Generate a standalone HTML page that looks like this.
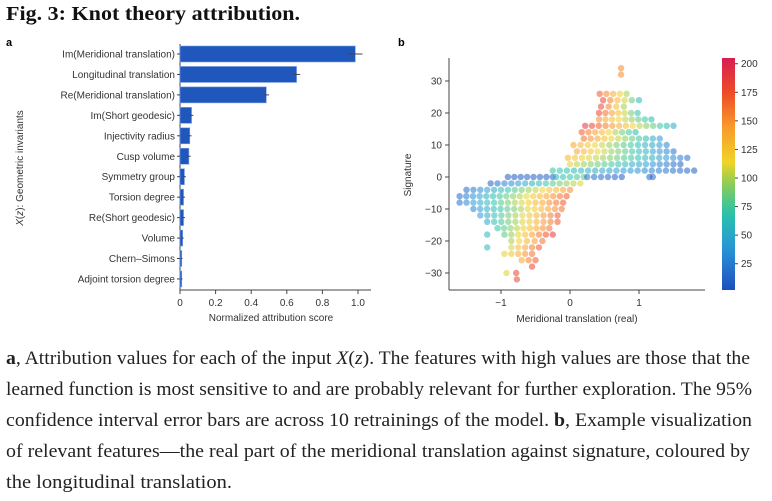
<!DOCTYPE html>
<html><head><meta charset="utf-8"><style>
body{margin:0;background:#fff;width:772px;height:501px;overflow:hidden}
svg{display:block}
.t{font-family:"Liberation Sans",sans-serif;font-size:10px;fill:#333}
.cap{font-family:"Liberation Serif",serif;font-size:19px;fill:#222}
</style></head><body>
<svg id="fig" width="772" height="501">
<text x="6" y="20" font-family="Liberation Serif,serif" font-weight="bold" font-size="20" fill="#111" textLength="294" lengthAdjust="spacingAndGlyphs">Fig. 3: Knot theory attribution.</text>
<text x="6" y="46" font-family="Liberation Sans,sans-serif" font-weight="bold" font-size="11">a</text>
<text x="398" y="46" font-family="Liberation Sans,sans-serif" font-weight="bold" font-size="11">b</text>
<g id="barg"></g>
<g id="scg"></g>
<g>
<text class="cap" x="6" y="364" textLength="744" lengthAdjust="spacingAndGlyphs"><tspan font-weight="bold">a</tspan>, Attribution values for each of the input <tspan font-style="italic">X</tspan>(<tspan font-style="italic">z</tspan>). The features with high values are those that the</text>
<text class="cap" x="6" y="395" textLength="746" lengthAdjust="spacingAndGlyphs">learned function is most sensitive to and are probably relevant for further exploration. The 95%</text>
<text class="cap" x="6" y="426" textLength="746" lengthAdjust="spacingAndGlyphs">confidence interval error bars are across 10 retrainings of the model. <tspan font-weight="bold">b</tspan>, Example visualization</text>
<text class="cap" x="6" y="457" textLength="744" lengthAdjust="spacingAndGlyphs">of relevant features—the real part of the meridional translation against signature, coloured by</text>
<text class="cap" x="6" y="488" textLength="226" lengthAdjust="spacingAndGlyphs">the longitudinal translation.</text>
</g>
</svg>
<script>
const barLabels=["Im(Meridional translation)","Longitudinal translation","Re(Meridional translation)","Im(Short geodesic)","Injectivity radius","Cusp volume","Symmetry group","Torsion degree","Re(Short geodesic)","Volume","Chern–Simons","Adjoint torsion degree"];
const barValues=[0.985,0.655,0.485,0.065,0.055,0.05,0.025,0.02,0.02,0.015,0.01,0.01];
const barErrors=[0.04,0.02,0.015,0.01,0.01,0.01,0.008,0.008,0.008,0.006,0.004,0.004];
const barTicks=[0,0.2,0.4,0.6,0.8,1.0];
// scatter segments: [signature, xStart, xEnd, colorStart, colorEnd]
const segSig=[34,32,26,24,22,20,18,16,14,12,10,8,6,4,2,0,0,0,0,-2,-4,-6,-8,-10,-12,-14,-16,-18,-18,-20,-22,-22,-24,-26,-28,-30,-30,-32];
const segX0=[0.74,0.74,0.43,0.48,0.45,0.42,0.42,0.22,0.17,0.2,0.05,0.1,-0.03,0.0,-0.25,-0.9,-0.2,0.25,1.15,-1.15,-1.5,-1.6,-1.6,-1.4,-1.3,-1.2,-1.05,-1.2,-0.95,-0.85,-1.2,-0.85,-0.95,-0.7,-0.55,-0.92,-0.78,-0.77];
const segX1=[0.74,0.74,0.82,1.0,0.78,0.98,1.18,1.5,0.95,1.3,1.4,1.5,1.7,1.6,1.8,-0.25,0.2,0.75,1.2,0.15,0.0,-0.05,-0.1,-0.12,-0.18,-0.18,-0.3,-1.2,-0.25,-0.4,-1.2,-0.45,-0.55,-0.5,-0.55,-0.92,-0.78,-0.77];
const segC0=[150,150,170,180,180,180,150,190,170,160,140,140,130,110,70,8,60,20,15,10,15,15,20,30,40,50,70,60,80,100,60,110,110,140,180,110,180,180];
const segC1=[150,150,100,60,100,70,60,50,60,40,30,20,20,10,10,10,80,8,15,110,150,170,170,160,170,170,160,60,190,160,60,170,160,170,180,110,180,180];
const xTicks=[-1,0,1];
const yTicks=[30,20,10,0,-10,-20,-30];
const cTicks=[200,175,150,125,100,75,50,25];

const NS="http://www.w3.org/2000/svg";
function mk(p,tag,at,txt){const e=document.createElementNS(NS,tag);for(const k in at)e.setAttribute(k,at[k]);if(txt!==undefined)e.textContent=txt;p.appendChild(e);return e;}

const bg=document.getElementById('barg');
const bx=v=>180+v*178, by=i=>54+i*20.45;
mk(bg,'line',{x1:180,y1:44,x2:180,y2:290,stroke:'#444','stroke-width':1});
mk(bg,'line',{x1:180,y1:290,x2:371,y2:290,stroke:'#444','stroke-width':1});
barLabels.forEach((l,i)=>{
  const r=mk(bg,'rect',{x:180,y:by(i)-8,width:bx(barValues[i])-180,height:16,fill:'#2057bd',stroke:'#7fa3e6','stroke-width':0.6});
  
  
  const e=mk(bg,'line',{x1:bx(barValues[i]-barErrors[i]),x2:bx(barValues[i]+barErrors[i]),y1:by(i),y2:by(i),stroke:'#444','stroke-width':1});
  
  
  mk(bg,'line',{x1:177,x2:180,y1:by(i),y2:by(i),stroke:'#444'});
  const t=mk(bg,'text',{class:'t',x:175,y:by(i)+3.5,'text-anchor':'end'},l);
  
  
});
barTicks.forEach(v=>{
  mk(bg,'line',{x1:bx(v),x2:bx(v),y1:290,y2:294,stroke:'#444'});
  const t=mk(bg,'text',{class:'t',x:bx(v),y:306,'text-anchor':'middle'},v===0?'0':v.toFixed(1));
  
  
});
let t1=mk(bg,'text',{class:'t',x:271,y:321,'text-anchor':'middle'},'Normalized attribution score');


let t2=mk(bg,'text',{class:'t',x:0,y:0,'text-anchor':'middle',transform:'translate(23,168) rotate(-90)'});
t2.innerHTML='<tspan font-style="italic">X</tspan>(<tspan font-style="italic">z</tspan>): Geometric invariants';



const sg=document.getElementById('scg');
const sx=v=>570+v*69, sy=v=>177-v*3.2;
const stops=[[0,[30,78,190]],[0.18,[40,150,215]],[0.33,[40,195,170]],[0.47,[150,205,80]],[0.55,[240,212,40]],[0.7,[248,155,42]],[0.85,[238,75,40]],[1,[215,30,80]]];
function col(c){let t=Math.max(0,Math.min(1,(c-2)/203));for(let i=1;i<stops.length;i++){if(t<=stops[i][0]){const a=stops[i-1],b=stops[i],f=(t-a[0])/(b[0]-a[0]);return 'rgb('+a[1].map((v,k)=>Math.round(v+(b[1][k]-v)*f)).join(',')+')';}}return 'rgb(215,30,80)';}
const defs=mk(sg,'defs',{});
const lg=mk(defs,'linearGradient',{id:'cg',x1:0,y1:1,x2:0,y2:0});
for(let k=0;k<=20;k++){mk(lg,'stop',{offset:k/20,'stop-color':col(2+203*k/20)});}
const pts=mk(sg,'g',{});


segSig.forEach((s,i)=>{
  const n=Math.max(1,Math.round((segX1[i]-segX0[i])/0.1)+1);
  for(let j=0;j<n;j++){
    const f=n===1?0:j/(n-1);
    const x=segX0[i]+(segX1[i]-segX0[i])*f, c=segC0[i]+(segC1[i]-segC0[i])*f;
    const d=mk(pts,'circle',{cx:sx(x),cy:sy(s),r:3.2,fill:col(c),'fill-opacity':0.55});
    
    
  }
});
mk(sg,'line',{x1:449,y1:58,x2:449,y2:290,stroke:'#444'});
mk(sg,'line',{x1:449,y1:290,x2:705,y2:290,stroke:'#444'});
xTicks.forEach(v=>{mk(sg,'line',{x1:sx(v),x2:sx(v),y1:290,y2:294,stroke:'#444'});
  const t=mk(sg,'text',{class:'t',x:sx(v),y:306,'text-anchor':'middle'},v<0?'−'+(-v):String(v));
  
  });
yTicks.forEach(v=>{mk(sg,'line',{x1:445,x2:449,y1:sy(v),y2:sy(v),stroke:'#444'});
  const t=mk(sg,'text',{class:'t',x:442,y:sy(v)+3.5,'text-anchor':'end'},v<0?'−'+(-v):String(v));
  
  });
let t3=mk(sg,'text',{class:'t',x:577,y:322,'text-anchor':'middle'},'Meridional translation (real)');


let t4=mk(sg,'text',{class:'t',x:0,y:0,'text-anchor':'middle',transform:'translate(411,175) rotate(-90)'},'Signature');


const cb=mk(sg,'rect',{x:722,y:58,width:13,height:232,fill:'url(#cg)'});


const cy=v=>290-(v-2)*232/203;
cTicks.forEach(v=>{mk(sg,'line',{x1:735,x2:738,y1:cy(v),y2:cy(v),stroke:'#444'});
  const t=mk(sg,'text',{class:'t',x:741,y:cy(v)+3.5},String(v));
  
  });
</script>
</body></html>
